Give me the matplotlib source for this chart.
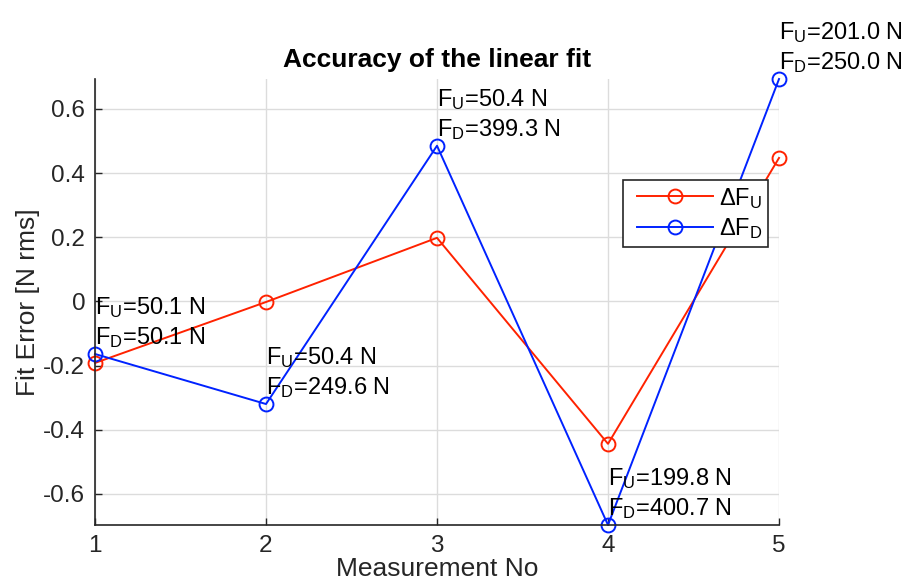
import matplotlib
matplotlib.use("Agg")
import matplotlib.pyplot as plt
from matplotlib.legend_handler import HandlerLine2D

plt.rcParams['font.family'] = ['Liberation Sans', 'DejaVu Sans']
plt.rcParams['mathtext.fontset'] = 'custom'
plt.rcParams['mathtext.rm'] = 'Liberation Sans'
plt.rcParams['mathtext.it'] = 'Liberation Sans'
plt.rcParams['axes.unicode_minus'] = False

meas_no = [1, 2, 3, 4, 5]
err_up = [-0.192, -0.002, 0.198, -0.444, 0.447]
err_down = [-0.164, -0.320, 0.485, -0.697, 0.693]

# applied forces per measurement
force_up = ["50.1", "50.4", "50.4", "199.8", "201.0"]
force_down = ["50.1", "249.6", "399.3", "400.7", "250.0"]

y_ticks = [-0.6, -0.4, -0.2, 0, 0.2, 0.4, 0.6]
y_tick_labels = ["-0.6", "-0.4", "-0.2", "0", "0.2", "0.4", "0.6"]

dark = '#262626'
red = '#ff2200'
blue = '#0022ff'

fig = plt.figure(figsize=(9.09, 5.81), dpi=100)
ax = fig.add_axes([0.1045, 0.0964, 0.7525, 0.7676])

l_up, = ax.plot(meas_no, err_up, color=red, lw=1.4, marker='o', ms=10,
                mfc='none', mew=1.4, label=r'$\Delta\mathrm{F_U}\;$',
                clip_on=False)
l_down, = ax.plot(meas_no, err_down, color=blue, lw=1.4, marker='o', ms=10,
                  mfc='none', mew=1.4, label=r'$\Delta\mathrm{F_D}\;$',
                  clip_on=False)

for x, y, fu, fd in zip(meas_no, err_down, force_up, force_down):
    txt = r'$\mathrm{F_U}$=' + fu + ' N\n' + r'$\mathrm{F_D}$=' + fd + ' N'
    ax.annotate(txt, xy=(x, y), xytext=(0, 3), textcoords='offset points',
                ha='left', va='bottom', fontsize=17, color='black',
                linespacing=1.25, annotation_clip=False)

ax.set_xlim(1, 5)
ax.set_ylim(min(err_down), max(err_down))
ax.set_xticks(meas_no)
ax.set_xticklabels([str(m) for m in meas_no])
ax.set_yticks(y_ticks)
ax.set_yticklabels(y_tick_labels)

ax.grid(True, color='#dcdcdc', lw=1)
ax.set_axisbelow(True)
for side in ['top', 'right']:
    ax.spines[side].set_visible(False)
for side in ['left', 'bottom']:
    ax.spines[side].set_color(dark)
    ax.spines[side].set_linewidth(1.2)
ax.tick_params(direction='in', colors=dark, labelsize=17.5, length=5,
               width=1, pad=7)

ax.set_xlabel("Measurement No", fontsize=19, color=dark, labelpad=0)
ax.set_ylabel("Fit Error [N rms]", fontsize=19, color=dark, labelpad=2)
ax.set_title("Accuracy of the linear fit", fontsize=19, fontweight='bold',
             pad=8.5)

hmap = {l_up: HandlerLine2D(xpad=0.34), l_down: HandlerLine2D(xpad=0.34)}
leg = ax.legend(loc='upper right', bbox_to_anchor=(0.984, 0.774),
                borderaxespad=0, fontsize=17, fancybox=False, framealpha=1,
                edgecolor=dark, handlelength=3.55, handletextpad=0.25,
                labelspacing=0.25, borderpad=0.25, handler_map=hmap)
leg.get_frame().set_linewidth(1.2)

fig.savefig("out.png", dpi=100)
